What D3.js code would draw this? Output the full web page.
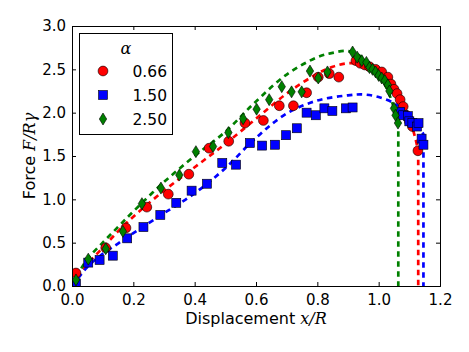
<!DOCTYPE html>
<html>
<head>
<meta charset="utf-8">
<script src="https://cdn.jsdelivr.net/npm/d3@7"></script>
<style>
body { margin: 0; background: #fff; }
svg text { font-family: "DejaVu Sans", sans-serif; }
.math { font-family: "DejaVu Serif", serif; font-style: italic; }
</style>
</head>
<body>
<div id="chart"></div>
<script>
// measured points, alpha = 0.66 / 1.50 / 2.50
var redPts = [
  [0.013,0.15],[0.11,0.44],[0.176,0.67],[0.244,0.91],[0.314,1.06],[0.381,1.29],
  [0.447,1.59],[0.511,1.67],[0.564,1.88],[0.624,1.91],[0.676,2.08],[0.722,2.08],
  [0.765,2.23],[0.803,2.41],[0.839,2.45],[0.87,2.41],[0.926,2.60],[0.94,2.57],
  [0.955,2.55],[0.97,2.53],[0.99,2.50],[1.01,2.47],[1.03,2.41],[1.04,2.33],
  [1.05,2.27],[1.06,2.22],[1.07,2.15],[1.08,2.07],[1.09,1.97],[1.10,1.90],
  [1.11,1.84],[1.128,1.56]
];
var bluePts = [
  [0.013,0.03],[0.053,0.27],[0.09,0.30],[0.133,0.35],[0.18,0.55],[0.233,0.68],
  [0.288,0.82],[0.34,0.96],[0.39,1.10],[0.44,1.18],[0.49,1.42],[0.535,1.40],
  [0.58,1.65],[0.62,1.62],[0.662,1.63],[0.698,1.74],[0.733,1.82],[0.765,2.00],
  [0.795,1.97],[0.823,2.05],[0.849,2.02],[0.893,2.05],[0.915,2.06],[1.07,2.01],
  [1.08,1.97],[1.095,1.96],[1.10,1.90],[1.11,1.88],[1.125,1.84],[1.13,1.88],
  [1.14,1.70],[1.146,1.63]
];
var greenPts = [
  [0.013,0.07],[0.053,0.31],[0.11,0.43],[0.166,0.63],[0.228,0.95],[0.29,1.13],
  [0.35,1.28],[0.404,1.55],[0.46,1.61],[0.51,1.77],[0.558,1.93],[0.602,2.04],
  [0.643,2.15],[0.684,2.30],[0.716,2.24],[0.749,2.24],[0.776,2.48],[0.803,2.40],
  [0.833,2.47],[0.915,2.70],[0.93,2.64],[0.945,2.60],[0.96,2.58],[0.97,2.52],
  [0.98,2.50],[0.99,2.47],[1.0,2.43],[1.01,2.40],[1.02,2.37],[1.03,2.32],
  [1.035,2.25],[1.05,2.05],[1.055,1.97],[1.063,1.88]
];

// fitted curves
var redFit = [
  [0,0],[0.02,0.11],[0.05,0.25],[0.1,0.44],[0.15,0.63],[0.2,0.80],[0.3,1.10],
  [0.4,1.37],[0.5,1.64],[0.6,1.93],[0.7,2.22],[0.8,2.45],[0.85,2.53],[0.9,2.57],
  [0.95,2.55],[1.0,2.46],[1.05,2.30],[1.08,2.10],[1.1,1.93],[1.12,1.70],
  [1.129,1.55],[1.129,0]
];
var blueFit = [
  [0,0],[0.02,0.09],[0.05,0.22],[0.1,0.37],[0.15,0.49],[0.2,0.61],[0.3,0.84],
  [0.4,1.07],[0.5,1.36],[0.6,1.71],[0.7,1.99],[0.8,2.14],[0.9,2.20],[0.95,2.21],
  [1.0,2.18],[1.05,2.11],[1.08,2.03],[1.12,1.90],[1.146,1.75],[1.146,0]
];
var greenFit = [
  [0,0],[0.02,0.14],[0.05,0.31],[0.1,0.50],[0.15,0.68],[0.2,0.86],[0.3,1.20],
  [0.4,1.50],[0.5,1.78],[0.6,2.13],[0.7,2.44],[0.8,2.64],[0.85,2.69],[0.9,2.71],
  [0.95,2.63],[1.0,2.44],[1.03,2.25],[1.05,2.05],[1.064,1.85],[1.064,0]
];

var legendLabels = ["0.66", "1.50", "2.50"];
var xTicks = [0, 0.2, 0.4, 0.6, 0.8, 1.0, 1.2];
var yTicks = [0, 0.5, 1.0, 1.5, 2.0, 2.5, 3.0];

var width = 469, height = 352;

var svg = d3.select("#chart").append("svg")
  .attr("width", width)
  .attr("height", height);

var x = d3.scaleLinear().domain([0, 1.2]).range([72, 440]);
var y = d3.scaleLinear().domain([0, 3]).range([286, 26]);

svg.append("clipPath").attr("id", "clip")
  .append("rect")
  .attr("x", 72).attr("y", 26)
  .attr("width", 368).attr("height", 260);

var plot = svg.append("g").attr("clip-path", "url(#clip)");

var series = [
  { pts: redPts, fit: redFit, color: "#ff0000", shape: "circle" },
  { pts: bluePts, fit: blueFit, color: "#0000ff", shape: "square" },
  { pts: greenPts, fit: greenFit, color: "#008000", shape: "diamond" }
];

var line = d3.line()
  .x(function(d) { return x(d[0]); })
  .y(function(d) { return y(d[1]); })
  .curve(d3.curveCatmullRom);

// lines go under markers
series.forEach(function(s) {
  plot.append("path")
    .datum(s.fit)
    .attr("d", function(d) {
      // smooth part then the vertical drop
      var n = d.length;
      return line(d.slice(0, n - 1)) + "L" + x(d[n-1][0]) + "," + y(d[n-1][1]);
    })
    .attr("fill", "none")
    .attr("stroke", s.color)
    .attr("stroke-width", 2.7)
    .attr("stroke-dasharray", "5.5,4.5");
});

function drawMarker(g, shape, color) {
  if (shape === "circle") {
    g.append("circle").attr("r", 4.9)
      .attr("fill", color).attr("stroke", "#000").attr("stroke-width", 0.6);
  } else if (shape === "square") {
    g.append("rect").attr("x", -4.5).attr("y", -4.5)
      .attr("width", 9).attr("height", 9)
      .attr("fill", color).attr("stroke", "#000").attr("stroke-width", 0.6);
  } else {
    g.append("path").attr("d", "M0,-6L3.7,0L0,6L-3.7,0Z")
      .attr("fill", color).attr("stroke", "#000").attr("stroke-width", 0.6);
  }
}

series.forEach(function(s) {
  plot.append("g").selectAll("g")
    .data(s.pts)
    .enter().append("g")
    .attr("transform", function(d) { return "translate(" + x(d[0]) + "," + y(d[1]) + ")"; })
    .each(function() { drawMarker(d3.select(this), s.shape, s.color); });
});

// frame + inward ticks on all sides
var fmt = d3.format(".1f");
var axB = svg.append("g").attr("transform", "translate(0,286)")
  .call(d3.axisBottom(x).tickValues(xTicks).tickFormat(fmt).tickSize(-4).tickPadding(8));
var axT = svg.append("g").attr("transform", "translate(0,26)")
  .call(d3.axisTop(x).tickValues(xTicks).tickFormat("").tickSize(-4));
var axL = svg.append("g").attr("transform", "translate(72,0)")
  .call(d3.axisLeft(y).tickValues(yTicks).tickFormat(fmt).tickSize(-4).tickPadding(6));
var axR = svg.append("g").attr("transform", "translate(440,0)")
  .call(d3.axisRight(y).tickValues(yTicks).tickFormat("").tickSize(-4));

[axB, axT, axL, axR].forEach(function(a) {
  a.select(".domain").attr("stroke", "#000").attr("stroke-width", 1);
  a.selectAll(".tick line").attr("stroke", "#000");
  a.selectAll("text").attr("font-size", 15).attr("fill", "#000")
    .style("font-family", "DejaVu Sans, sans-serif");
});

// axis labels
var xl = svg.append("text")
  .attr("x", 256).attr("y", 324)
  .attr("text-anchor", "middle")
  .attr("font-size", 16);
xl.append("tspan").text("Displacement ");
xl.append("tspan").attr("class", "math").text("x/R");

var yl = svg.append("text")
  .attr("transform", "translate(35,156) rotate(-90)")
  .attr("text-anchor", "middle")
  .attr("font-size", 16);
yl.append("tspan").text("Force ");
yl.append("tspan").attr("class", "math").text("F/Rγ");

// legend
var leg = svg.append("g");
leg.append("rect")
  .attr("x", 79.5).attr("y", 33.5)
  .attr("width", 93).attr("height", 101)
  .attr("fill", "#fff").attr("stroke", "#000").attr("stroke-width", 1);
leg.append("text")
  .attr("class", "math")
  .attr("x", 126).attr("y", 54)
  .attr("text-anchor", "middle")
  .attr("font-size", 16)
  .text("α");
series.forEach(function(s, i) {
  var yy = 71 + i * 24;
  var g = leg.append("g").attr("transform", "translate(103," + yy + ")");
  drawMarker(g, s.shape, s.color);
  leg.append("text")
    .attr("x", 167).attr("y", yy + 6)
    .attr("text-anchor", "end")
    .attr("font-size", 15.5)
    .text(legendLabels[i]);
});
</script>
</body>
</html>
